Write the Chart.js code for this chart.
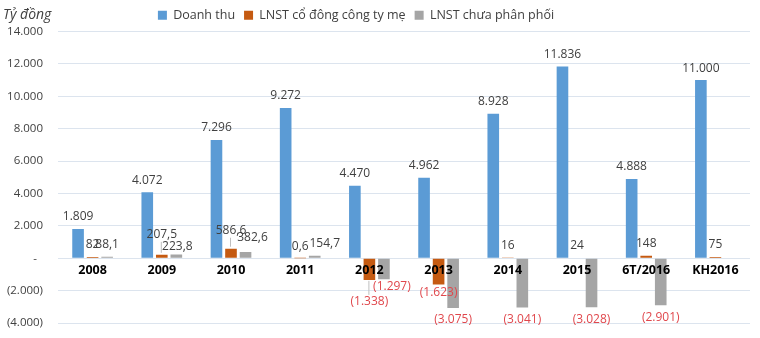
<!DOCTYPE html>
<html>
<head>
<meta charset="utf-8">
<script src="https://cdn.jsdelivr.net/npm/chart.js@4/dist/chart.umd.min.js"></script>
<style>
  html, body { margin: 0; padding: 0; background: #ffffff; }
  #wrap { width: 760px; height: 338px; }
</style>
</head>
<body>
<div id="wrap"><canvas id="c" width="760" height="338"></canvas></div>
<script>
// Kết quả kinh doanh theo năm (tỷ đồng)
const categories = ['2008', '2009', '2010', '2011', '2012', '2013', '2014', '2015', '6T/2016', 'KH2016'];
const doanhThu   = [1809, 4072, 7296, 9272, 4470, 4962, 8928, 11836, 4888, 11000];
const lnstCoDong = [82, 207.5, 586.6, 0.6, -1338, -1623, 16, 24, 148, 75];
const lnstChuaPP = [88.1, 223.8, 382.6, 154.7, -1297, -3075, -3041, -3028, -2901, null];

const seriesNames = ['Doanh thu', 'LNST cổ đông công ty mẹ', 'LNST chưa phân phối'];
const seriesColors = ['#5B9BD5', '#C55A11', '#A5A5A5'];

const yMin = -4000, yMax = 14000, yStep = 2000;

// Small nudges for labels that would otherwise collide (dataset index -> point index)
const labelNudges = {
  1: { 1: { dx: 0, dy: -8, leader: true }, 2: { dx: 0, dy: -6, leader: true },
       4: { dx: 0, dy: 10, leader: true }, 5: { dx: 0, dy: -4 } },
  2: { 1: { dx: 1, dy: 4 }, 2: { dx: 7, dy: -2 }, 3: { dx: 10, dy: 0 }, 4: { dx: 8, dy: -5 } }
};

const FONT = "'Open Sans', 'Noto Sans', sans-serif";

// Vietnamese number style: "." for thousands, "," for decimals, negatives in parentheses
function fmtVN(v) {
  const abs = Math.abs(v);
  const parts = String(abs).split('.');
  const intPart = parts[0].replace(/\B(?=(\d{3})+(?!\d))/g, '.');
  const s = parts.length > 1 ? intPart + ',' + parts[1] : intPart;
  return v < 0 ? '(' + s + ')' : s;
}

// Category names sit just under the zero line, drawn over the bars
const categoryLabels = {
  id: 'categoryLabels',
  afterDatasetsDraw(chart) {
    const ctx = chart.ctx;
    const xs = chart.scales.x, ys = chart.scales.y;
    const y0 = ys.getPixelForValue(0);
    ctx.save();
    ctx.font = 'bold 12.5px ' + FONT;
    ctx.fillStyle = '#000000';
    ctx.textAlign = 'center';
    ctx.textBaseline = 'top';
    chart.data.labels.forEach((lab, i) => {
      ctx.fillText(lab, xs.getPixelForTick(i), y0 + 6);
    });
    ctx.restore();
  }
};

const valueLabels = {
  id: 'valueLabels',
  afterDatasetsDraw(chart) {
    const ctx = chart.ctx;
    ctx.save();
    ctx.font = '12px ' + FONT;
    ctx.textAlign = 'center';
    ctx.textBaseline = 'middle';
    chart.data.datasets.forEach((ds, di) => {
      const meta = chart.getDatasetMeta(di);
      meta.data.forEach((bar, i) => {
        const v = ds.data[i];
        if (v === null || v === undefined) return;
        const nudge = (labelNudges[di] && labelNudges[di][i]) || { dx: 0, dy: 0 };
        const neg = v < 0;
        const end = bar.y;               // top for positive, bottom for negative bars
        const x = bar.x + nudge.dx;
        const y = (neg ? end + 12 : end - 12) + nudge.dy;
        if (nudge.leader) {
          ctx.strokeStyle = '#BFBFBF';
          ctx.lineWidth = 1;
          ctx.beginPath();
          if (neg) { ctx.moveTo(bar.x - 0.5, end + 1); ctx.lineTo(bar.x - 0.5, y - 7); }
          else { ctx.moveTo(bar.x - 0.5, end - 2); ctx.lineTo(bar.x - 0.5, y + 7); }
          ctx.stroke();
        }
        ctx.fillStyle = neg ? '#E0474C' : '#404040';
        ctx.fillText(fmtVN(v), x, y);
      });
    });
    ctx.restore();
  }
};

// Unit caption at the top-left corner; legend sits a little left of centre
const unitTitle = {
  id: 'unitTitle',
  afterLayout(chart) {
    if (chart.legend) chart.legend.right -= 38;
  },
  afterDraw(chart) {
    const ctx = chart.ctx;
    ctx.save();
    ctx.font = 'italic 14px ' + FONT;
    ctx.fillStyle = '#404040';
    ctx.textAlign = 'left';
    ctx.textBaseline = 'alphabetic';
    ctx.fillText('Tỷ đồng', 3, 19);
    ctx.restore();
  }
};

new Chart(document.getElementById('c'), {
  type: 'bar',
  data: {
    labels: categories,
    datasets: [doanhThu, lnstCoDong, lnstChuaPP].map((d, k) => ({
      label: seriesNames[k],
      data: d,
      backgroundColor: seriesColors[k],
      borderWidth: 0,
      categoryPercentage: 0.63,
      barPercentage: 0.8
    }))
  },
  options: {
    responsive: false,
    animation: false,
    devicePixelRatio: 1,
    layout: { padding: { top: 0, right: 10, bottom: 15, left: 0 } },
    plugins: {
      legend: {
        position: 'top',
        align: 'center',
        labels: {
          boxWidth: 9,
          boxHeight: 9,
          padding: 9,
          color: '#404040',
          font: { family: FONT, size: 12.5 }
        }
      },
      tooltip: { enabled: false }
    },
    scales: {
      x: {
        display: false,
        offset: true,
        grid: { display: false }
      },
      y: {
        min: yMin,
        max: yMax,
        afterFit(scale) { scale.width = 58; },
        grid: { color: '#DCE4EE', drawTicks: true, tickLength: 15, tickColor: 'rgba(0,0,0,0)', lineWidth: 1 },
        border: { display: false },
        ticks: {
          stepSize: yStep,
          padding: 0,
          color: '#404040',
          font: { family: FONT, size: 11.5 },
          callback: v => v === 0 ? '-  ' : fmtVN(v)
        }
      }
    }
  },
  plugins: [valueLabels, categoryLabels, unitTitle]
});
</script>
</body>
</html>
